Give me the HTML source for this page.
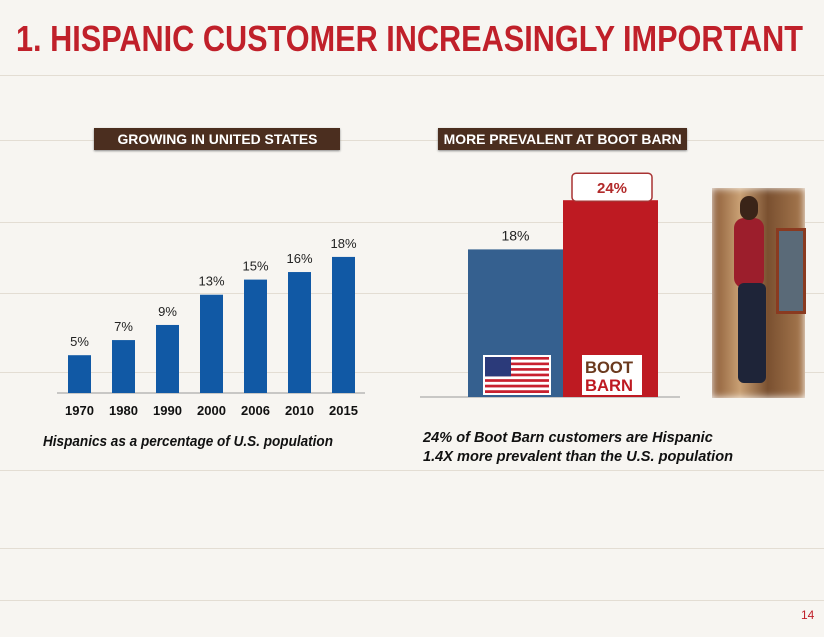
<!DOCTYPE html>
<html><head><meta charset="utf-8"><style>
body{margin:0;width:824px;height:637px;overflow:hidden;background:#f7f5f1;font-family:"Liberation Sans",sans-serif;position:relative}
.abs{position:absolute}
.title{left:16px;top:18px;font-size:36px;font-weight:bold;color:#c0202a;white-space:nowrap;transform-origin:0 0}
.hdr{background:#4b2e1f;color:#fff;font-weight:bold;font-size:14px;text-align:center;line-height:22px;height:22px;box-shadow:0 1px 2px #888;white-space:nowrap;overflow:hidden}
.cap{font-size:15px;font-weight:bold;font-style:italic;color:#111;line-height:19px;white-space:nowrap;transform-origin:0 0}
.plank{position:absolute;left:0;width:824px;height:1px;background:#e3ddd3}
</style></head><body>
<div class="plank" style="top:75px"></div><div class="plank" style="top:140px"></div>
<div class="plank" style="top:222px"></div><div class="plank" style="top:293px"></div>
<div class="plank" style="top:372px"></div><div class="plank" style="top:470px"></div>
<div class="plank" style="top:548px"></div><div class="plank" style="top:600px"></div>
<div class="abs title fit" data-w="787">1. HISPANIC CUSTOMER INCREASINGLY IMPORTANT</div>
<div class="abs hdr" style="left:94px;top:128px;width:246px"><span class="fitc" data-w="200" style="display:inline-block;transform-origin:50% 50%">GROWING IN UNITED STATES</span></div>
<div class="abs hdr" style="left:438px;top:128px;width:249px"><span class="fitc" data-w="238" style="display:inline-block;transform-origin:50% 50%">MORE PREVALENT AT BOOT BARN</span></div>
<svg class="abs" style="left:0;top:0" width="824" height="637" id="chart"></svg>
<div class="abs" style="left:712px;top:188px;width:93px;height:210px;background:linear-gradient(90deg,#8a5a35,#c9a074 30%,#7a5030 60%,#a87a50);box-shadow:0 0 8px #fff inset">
<div class="abs" style="left:22px;top:30px;width:30px;height:70px;background:#9c1e2c;border-radius:10px"></div>
<div class="abs" style="left:26px;top:95px;width:28px;height:100px;background:#1e2438;border-radius:6px"></div>
<div class="abs" style="left:28px;top:8px;width:18px;height:24px;background:#3a2418;border-radius:9px"></div>
<div class="abs" style="left:64px;top:40px;width:24px;height:80px;background:#5a6a78;border:3px solid #8a3a20"></div>
</div>
<div class="abs cap fit" data-w="290" style="left:43px;top:432px">Hispanics as a percentage of U.S. population</div>
<div class="abs cap fit" data-w="310" style="left:423px;top:428px">24% of Boot Barn customers are Hispanic<br>1.4X more prevalent than the U.S. population</div>
<div class="abs" style="left:801px;top:608px;font-size:12px;color:#c0202a">14</div>
<script>
document.querySelectorAll('.fit,.fitc').forEach(e=>{const w=e.getBoundingClientRect().width;const t=+e.dataset.w;e.style.transform='scaleX('+(t/w)+')';});
const years=["1970","1980","1990","2000","2006","2010","2015"];
const usValues=[5,7,9,13,15,16,18];
const compCats=["U.S.","Boot Barn"];
const compValues=[18,24];
const NS="http://www.w3.org/2000/svg";
const svg=document.getElementById('chart');
function mk(t,a){const e=document.createElementNS(NS,t);for(const k in a)e.setAttribute(k,a[k]);svg.appendChild(e);return e;}
const base1=393,sc1=7.56,x0=68,step=44,bw=23;
const yL=v=>base1-v*sc1, xL=i=>x0+i*step;
let ax=mk('line',{x1:57,x2:365,y1:base1,y2:base1,stroke:'#999','stroke-width':1});

years.forEach((y,i)=>{
 const r=mk('rect',{x:xL(i),y:yL(usValues[i]),width:bw,height:usValues[i]*sc1,fill:'#1159a5'});
 
 const t=mk('text',{x:xL(i)+bw/2,y:yL(usValues[i])-9,'text-anchor':'middle','font-size':13,fill:'#222','font-family':'Liberation Sans'});
 t.textContent=usValues[i]+'%';
 const l=mk('text',{x:xL(i)+bw/2,y:415,'text-anchor':'middle','font-size':13,'font-weight':'bold',fill:'#111','font-family':'Liberation Sans'});
 l.textContent=y;
});
const base2=397,sc2=8.2,rx0=468,rbw=95;
const yR=v=>base2-v*sc2, xR=i=>rx0+i*rbw;
const cols=['#35608f','#be1a22'];
let ax2=mk('line',{x1:420,x2:680,y1:base2,y2:base2,stroke:'#999','stroke-width':1});

compCats.forEach((c,i)=>{
 const r=mk('rect',{x:xR(i),y:yR(compValues[i]),width:rbw,height:compValues[i]*sc2,fill:cols[i]});
 
 if(i===0){
  const t=mk('text',{x:xR(i)+rbw/2,y:yR(compValues[i])-9,'text-anchor':'middle','font-size':14,fill:'#222','font-family':'Liberation Sans'});
  t.textContent=compValues[i]+'%';
 } else {
  const bx=mk('rect',{x:xR(i)+9,y:yR(compValues[i])-27,width:80,height:28,rx:4,fill:'#fff',stroke:'#a83232','stroke-width':1.5});
  
  const t=mk('text',{x:xR(i)+49,y:yR(compValues[i])-7,'text-anchor':'middle','font-size':15,'font-weight':'bold',fill:'#b22a2a','font-family':'Liberation Sans'});
  t.textContent=compValues[i]+'%';
 }
});
const fx=485,fy=357,fw=64,fh=36;
let fb=mk('rect',{x:fx-2,y:fy-2,width:fw+4,height:fh+4,fill:'#fff'});
for(let s=0;s<13;s++){mk('rect',{x:fx,y:fy+s*fh/13,width:fw,height:fh/13,fill:s%2?'#fff':'#c8202f'});}
mk('rect',{x:fx,y:fy,width:26,height:fh*7/13,fill:'#2b3a7a'});
let lb=mk('rect',{x:582,y:355,width:60,height:40,fill:'#fff'});
const l1=mk('text',{x:609,y:373,'text-anchor':'middle','font-size':17,'font-weight':'bold',fill:'#6b3a1e','font-family':'Liberation Sans',textLength:48,lengthAdjust:'spacingAndGlyphs'});l1.textContent='BOOT';
const l2=mk('text',{x:609,y:391,'text-anchor':'middle','font-size':17,'font-weight':'bold',fill:'#be1a22','font-family':'Liberation Sans',textLength:48,lengthAdjust:'spacingAndGlyphs'});l2.textContent='BARN';
</script>
</body></html>
